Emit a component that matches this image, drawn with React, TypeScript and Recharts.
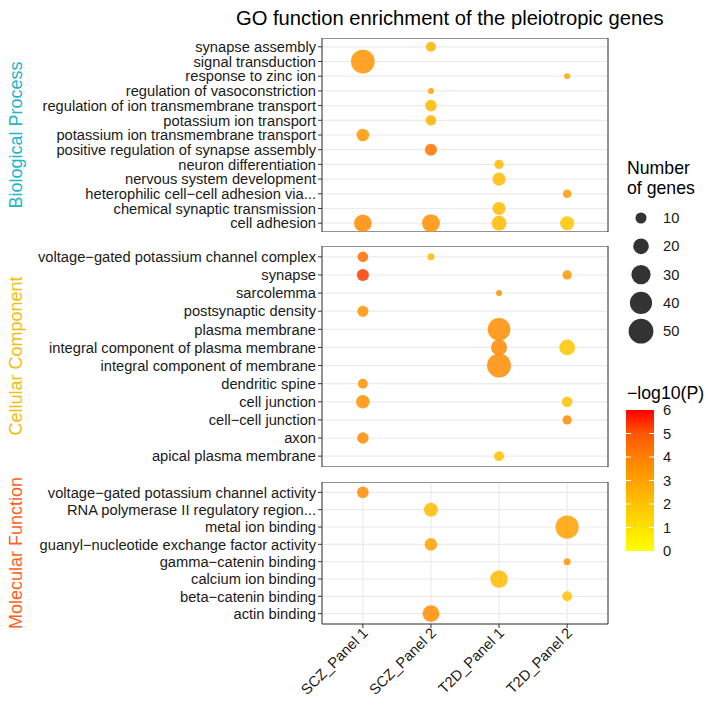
import React from 'react';
import { ScatterChart, Scatter, XAxis, YAxis, ZAxis, CartesianGrid, Cell, ReferenceArea } from 'recharts';

const FONT = '"Liberation Sans", Arial, Helvetica, sans-serif';

const datasets = ['SCZ_Panel 1', 'SCZ_Panel 2', 'T2D_Panel 1', 'T2D_Panel 2'];

const bpTerms = [
  'synapse assembly',
  'signal transduction',
  'response to zinc ion',
  'regulation of vasoconstriction',
  'regulation of ion transmembrane transport',
  'potassium ion transport',
  'potassium ion transmembrane transport',
  'positive regulation of synapse assembly',
  'neuron differentiation',
  'nervous system development',
  'heterophilic cell\u2212cell adhesion via...',
  'chemical synaptic transmission',
  'cell adhesion',
];

const ccTerms = [
  'voltage\u2212gated potassium channel complex',
  'synapse',
  'sarcolemma',
  'postsynaptic density',
  'plasma membrane',
  'integral component of plasma membrane',
  'integral component of membrane',
  'dendritic spine',
  'cell junction',
  'cell\u2212cell junction',
  'axon',
  'apical plasma membrane',
];

const mfTerms = [
  'voltage\u2212gated potassium channel activity',
  'RNA polymerase II regulatory region...',
  'metal ion binding',
  'guanyl\u2212nucleotide exchange factor activity',
  'gamma\u2212catenin binding',
  'calcium ion binding',
  'beta\u2212catenin binding',
  'actin binding',
];

// [term index, dataset index, number of genes, -log10(P)]
const bpHits = [
  [0, 1, 8, 2.5],
  [1, 0, 46, 3.4],
  [2, 3, 3, 2.8],
  [3, 1, 3, 3.0],
  [4, 1, 11, 2.3],
  [5, 1, 9, 2.5],
  [6, 0, 13, 3.3],
  [7, 1, 12, 4.3],
  [8, 2, 7, 2.3],
  [9, 2, 14, 2.2],
  [10, 3, 6, 3.2],
  [11, 2, 14, 2.2],
  [12, 0, 25, 3.7],
  [12, 1, 26, 3.5],
  [12, 2, 18, 2.2],
  [12, 3, 16, 1.9],
];

const ccHits = [
  [0, 0, 9, 4.5],
  [0, 1, 4, 2.2],
  [1, 0, 12, 5.5],
  [1, 3, 7, 3.3],
  [2, 2, 3, 3.4],
  [3, 0, 10, 3.4],
  [4, 2, 42, 3.6],
  [5, 2, 21, 3.7],
  [5, 3, 20, 1.9],
  [6, 2, 47, 3.6],
  [7, 0, 8, 3.4],
  [8, 0, 15, 3.5],
  [8, 3, 9, 2.0],
  [9, 3, 7, 3.6],
  [10, 0, 11, 3.6],
  [11, 2, 8, 2.1],
];

const mfHits = [
  [0, 0, 11, 3.6],
  [1, 1, 16, 2.2],
  [2, 3, 44, 3.0],
  [3, 1, 13, 3.0],
  [4, 3, 4, 3.3],
  [5, 2, 25, 2.2],
  [6, 3, 8, 2.0],
  [7, 1, 23, 3.6],
];

const sizeBreaks = [10, 20, 30, 40, 50];
const colorBreaks = [6, 5, 4, 3, 2, 1, 0];

// size scale: area grows linearly with gene count
const MAX_GENES = 50;
const MAX_AREA = 481;
const radiusFor = (n: number) => Math.sqrt((MAX_AREA * n) / MAX_GENES / Math.PI);

// yellow -> red gradient interpolated in Lab, like ggplot's scale_colour_gradient
const lin = (c: number) => {
  c /= 255;
  return c <= 0.04045 ? c / 12.92 : Math.pow((c + 0.055) / 1.055, 2.4);
};
const gam = (c: number) => {
  const v = c <= 0.0031308 ? 12.92 * c : 1.055 * Math.pow(c, 1 / 2.4) - 0.055;
  return Math.round(Math.max(0, Math.min(1, v)) * 255);
};
const fLab = (t: number) => (t > 0.008856 ? Math.cbrt(t) : 7.787 * t + 16 / 116);
const fInv = (t: number) => (t * t * t > 0.008856 ? t * t * t : (t - 16 / 116) / 7.787);
const rgbToLab = ([r, g, b]: number[]) => {
  const R = lin(r), G = lin(g), B = lin(b);
  const x = (0.4124 * R + 0.3576 * G + 0.1805 * B) / 0.95047;
  const y = 0.2126 * R + 0.7152 * G + 0.0722 * B;
  const z = (0.0193 * R + 0.1192 * G + 0.9505 * B) / 1.08883;
  return [116 * fLab(y) - 16, 500 * (fLab(x) - fLab(y)), 200 * (fLab(y) - fLab(z))];
};
const labToCss = ([L, a, b]: number[]) => {
  const fy = (L + 16) / 116;
  const x = fInv(fy + a / 500) * 0.95047;
  const y = fInv(fy);
  const z = fInv(fy - b / 200) * 1.08883;
  const R = 3.2406 * x - 1.5372 * y - 0.4986 * z;
  const G = -0.9689 * x + 1.8758 * y + 0.0415 * z;
  const B = 0.0557 * x - 0.204 * y + 1.057 * z;
  return `rgb(${gam(R)},${gam(G)},${gam(B)})`;
};
const LOW = rgbToLab([255, 255, 0]);
const HIGH = rgbToLab([255, 0, 0]);
const colorFor = (v: number) => {
  const t = Math.max(0, Math.min(1, v / 6));
  return labToCss(LOW.map((l, i) => l + (HIGH[i] - l) * t));
};

const XTick = ({ x, y, payload }: any) => (
  <g transform={`translate(${x + 6},${y + 4}) rotate(-45)`}>
    <text x={0} y={0} textAnchor="end" fontSize={14.7} fill="#1a1a1a" fontFamily={FONT}>
      {datasets[payload.value - 1]}
    </text>
  </g>
);

const Panel = ({ terms, hits, top, height, showX }: any) => {
  const data = hits.map((h: number[]) => ({ x: h[1] + 1, y: h[0] + 1, z: h[2], logP: h[3] }));
  const axisH = showX ? 85 : 0;
  return (
    <div style={{ position: 'absolute', left: 0, top }}>
      <ScatterChart width={709} height={height + axisH} margin={{ top: 0, right: 101, bottom: 0, left: 0 }}>
        <CartesianGrid stroke="#EBEBEB" strokeWidth={1.2} />
        <XAxis
          type="number"
          dataKey="x"
          domain={[0.4, 4.6]}
          ticks={[1, 2, 3, 4]}
          interval={0}
          height={axisH}
          axisLine={false}
          tickLine={showX ? { stroke: '#333' } : false}
          tickSize={4}
          tickMargin={2}
          tick={showX ? <XTick /> : false}
          allowDataOverflow
        />
        <YAxis
          type="number"
          dataKey="y"
          domain={[0.4, terms.length + 0.6]}
          reversed
          ticks={terms.map((_: string, i: number) => i + 1)}
          interval={0}
          width={322}
          axisLine={false}
          tickLine={{ stroke: '#333' }}
          tickSize={4}
          tickMargin={2}
          tickFormatter={(v: number) => terms[v - 1]}
          tick={{ fontSize: 14.7, fill: '#1a1a1a', fontFamily: FONT }}
          allowDataOverflow
        />
        <ZAxis type="number" dataKey="z" domain={[0, MAX_GENES]} range={[0, MAX_AREA]} />
        <Scatter data={data} isAnimationActive={false}>
          {data.map((d: any, i: number) => (
            <Cell key={i} fill={colorFor(d.logP)} fillOpacity={0.85} />
          ))}
        </Scatter>
        <ReferenceArea
          x1={0.4}
          x2={4.6}
          y1={0.4}
          y2={terms.length + 0.6}
          fill="none"
          fillOpacity={0}
          stroke="#333"
          strokeWidth={1}
          ifOverflow="visible"
        />
      </ScatterChart>
    </div>
  );
};

const strips = [
  { label: 'Biological Process', color: '#22B5C6', cy: 135 },
  { label: 'Cellular Component', color: '#F2BC10', cy: 356 },
  { label: 'Molecular Function', color: '#FF5F1F', cy: 553 },
];

export default function App() {
  const barTop = 410;
  const barBottom = 551;
  const barY = (v: number) => barBottom - ((barBottom - barTop) * v) / 6;
  const gradStops = [0, 1, 2, 3, 4, 5, 6];
  return (
    <div style={{ position: 'absolute', left: 0, top: 0, width: 709, height: 709, background: '#fff', fontFamily: FONT }}>
      <svg width={709} height={709} style={{ position: 'absolute', left: 0, top: 0 }}>
        <defs>
          <linearGradient id="logp" x1="0" y1="1" x2="0" y2="0">
            {gradStops.map((v) => (
              <stop key={v} offset={`${(v / 6) * 100}%`} stopColor={colorFor(v)} />
            ))}
          </linearGradient>
        </defs>
        <text x={236} y={25} fontSize={20.2} fill="#000">
          GO function enrichment of the pleiotropic genes
        </text>
        {strips.map((s) => (
          <text
            key={s.label}
            transform={`translate(22,${s.cy}) rotate(-90)`}
            textAnchor="middle"
            fontSize={18}
            fill={s.color}
          >
            {s.label}
          </text>
        ))}
        <text x={627} y={174} fontSize={17.7} fill="#000">Number</text>
        <text x={627} y={194} fontSize={17.7} fill="#000">of genes</text>
        {sizeBreaks.map((n, i) => (
          <g key={n}>
            <circle cx={641} cy={218 + i * 28.3} r={radiusFor(n)} fill="#333" />
            <text x={663} y={218 + i * 28.3} dy="0.35em" fontSize={14.7} fill="#1a1a1a">
              {n}
            </text>
          </g>
        ))}
        <text x={627} y={399} fontSize={17.7} fill="#000">{'\u2212log10(P)'}</text>
        <rect x={626} y={barTop} width={28} height={barBottom - barTop} fill="url(#logp)" />
        {colorBreaks.map((v) => (
          <g key={v}>
            {v > 0 && v < 6 && (
              <>
                <line x1={626} x2={631} y1={barY(v)} y2={barY(v)} stroke="#fff" strokeWidth={1} />
                <line x1={649} x2={654} y1={barY(v)} y2={barY(v)} stroke="#fff" strokeWidth={1} />
              </>
            )}
            <text x={663} y={barY(v)} dy="0.35em" fontSize={14.7} fill="#1a1a1a">
              {v}
            </text>
          </g>
        ))}
      </svg>
      <Panel terms={bpTerms} hits={bpHits} top={38} height={194} showX={false} />
      <Panel terms={ccTerms} hits={ccHits} top={246} height={221} showX={false} />
      <Panel terms={mfTerms} hits={mfHits} top={482} height={142} showX />
    </div>
  );
}
